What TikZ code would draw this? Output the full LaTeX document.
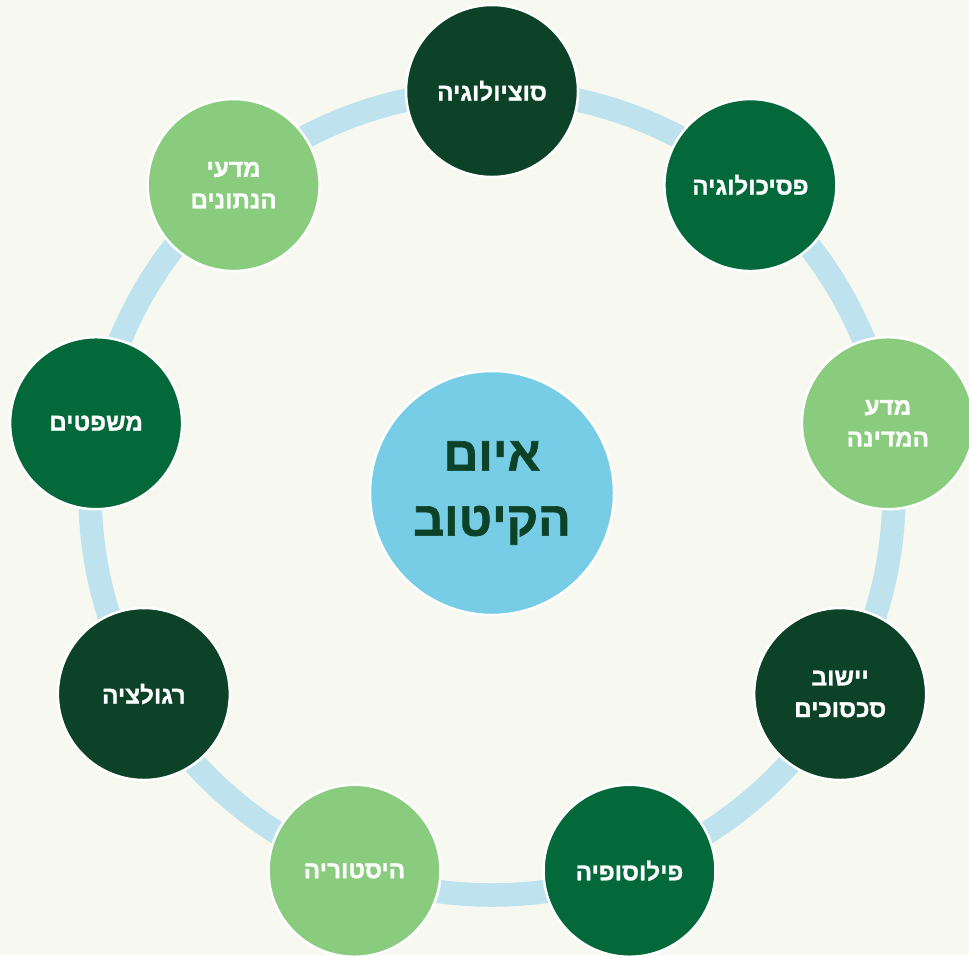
\documentclass[tikz,border=0pt]{standalone}
\usepackage{fontspec}
\newfontfamily\hebfont[Script=Hebrew, BoldFont={Liberation Sans Bold}, BoldFeatures={FakeBold=1.3}]{Liberation Sans}
\TeXXeTstate=1
\usetikzlibrary{positioning, calc}

\definecolor{bgcol}{HTML}{F7F9F1}
\definecolor{ringcol}{HTML}{BEE3EF}
\definecolor{hubcol}{HTML}{78CDE6}
\definecolor{darkg}{HTML}{0B4228}
\definecolor{midg}{HTML}{03683A}
\definecolor{lightg}{HTML}{89CC7E}

\tikzset{
	field/.style={circle, draw=white, line width=0.05cm, minimum size=3.44cm, inner sep=0pt,
		text=white, align=center, font=\hebfont\bfseries\fontsize{13.8}{18}\selectfont},
	hubnode/.style={circle, draw=white, line width=0.05cm, fill=hubcol, minimum size=4.88cm, inner sep=0pt,
		text=darkg, align=center, font=\hebfont\bfseries\fontsize{27.5}{37}\selectfont},
	ring/.style={ringcol, line width=0.47cm}
}

\begin{document}
\begin{tikzpicture}
	%%% Sfondo
	\fill[bgcol] (0,0) rectangle (19.38,-19.10);
	\useasboundingbox (0,0) rectangle (19.38,-19.10);
	\clip (0,0) rectangle (19.38,-19.10);
	
	% Anello
	\coordinate (c) at (9.84,-9.86);
	\draw[ring] (c) circle (8.04cm);
	
	% Centro
	\node[hubnode] (hub) at (c) {\beginR איום\endR\\\beginR הקיטוב\endR};
	
	% Discipline
	\foreach \a/\col/\txt [count=\i] in {
		90/darkg/{\beginR סוציולוגיה\endR},
		50/midg/{\beginR פסיכולוגיה\endR},
		10/lightg/{\beginR מדע\endR\\\beginR המדינה\endR},
		-30/darkg/{\beginR יישוב\endR\\\beginR סכסוכים\endR},
		-70/midg/{\beginR פילוסופיה\endR},
		-110/lightg/{\beginR היסטוריה\endR},
		-150/darkg/{\beginR רגולציה\endR},
		170/midg/{\beginR משפטים\endR},
		130/lightg/{\beginR מדעי\endR\\\beginR הנתונים\endR}}
	\node[field, fill=\col] (d\i) at ($(c)+(\a:8.04cm)$) {\txt};
	
\end{tikzpicture}
\end{document}
